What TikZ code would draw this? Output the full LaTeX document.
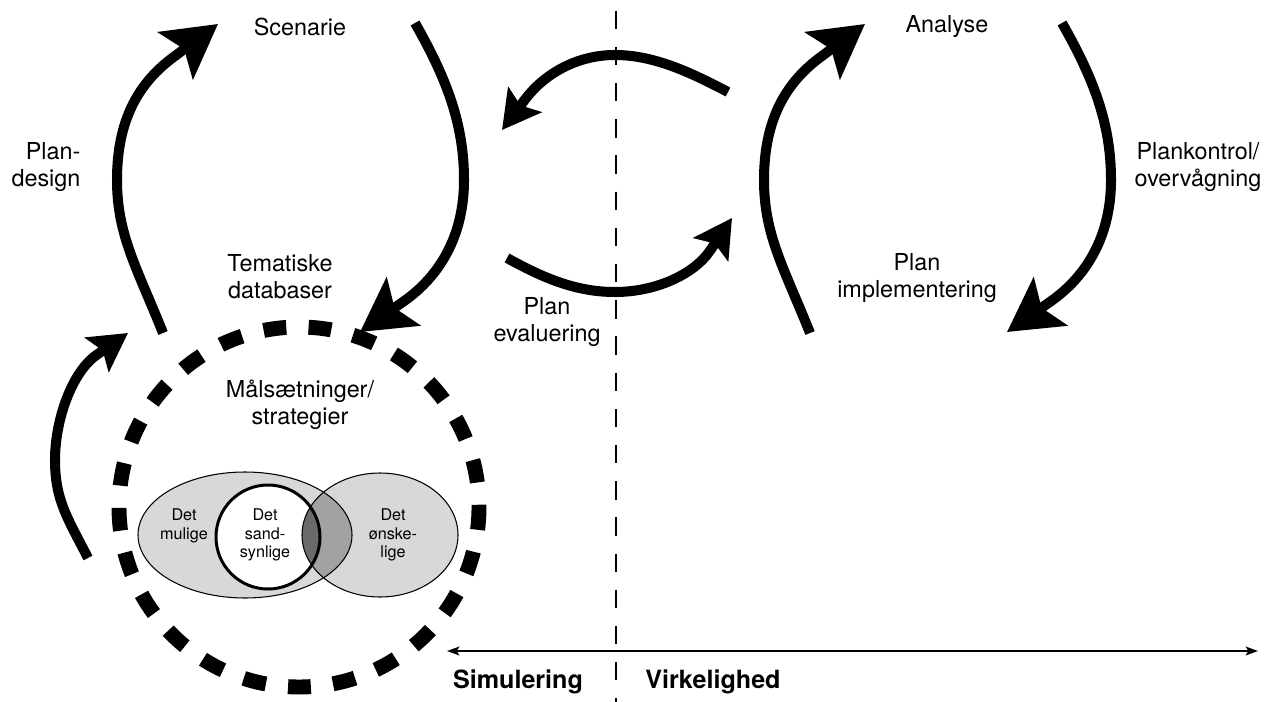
\documentclass[tikz,border=0pt]{standalone}
\usepackage{fontspec}
\setmainfont{TeX Gyre Heros}
\usetikzlibrary{arrows.meta, positioning}

\definecolor{venlight}{HTML}{D8D8D8}
\definecolor{venmid}{HTML}{A2A2A2}
\definecolor{vendark}{HTML}{6A6A6A}

\begin{document}
\begin{tikzpicture}[
			x=0.02cm, y=-0.02cm,
			lbl/.style={
				align=center,
				inner sep=0pt,
				font=\fontsize{13.3}{15.2}\selectfont
			},
			vlbl/.style={
				align=center,
				inner sep=0pt,
				font=\fontsize{9.2}{10.4}\selectfont
			},
			axislbl/.style={
				inner sep=0pt,
				font=\fontsize{14.3}{16}\selectfont\bfseries
			},
			bigarrow/.style={
				-{Stealth[length=30pt, width=33pt, inset=6pt]},
				line width=5.7pt
			},
			smallarrow/.style={
				-{Stealth[length=21.5pt, width=23.5pt, inset=4pt]},
				line width=5.7pt
			},
			divider/.style={
				line width=1.6pt,
				dash pattern=on 10.4pt off 10.2pt,
				dash phase=14.5pt
			},
			axis/.style={
				{Stealth[length=7pt, width=5pt, inset=1.5pt]}-{Stealth[length=7pt, width=5pt, inset=1.5pt]},
				line width=1.1pt
			}
			]
			
			\useasboundingbox (0,0) rectangle (1266,702);
			
			% Divider: Simulering | Virkelighed
			\coordinate (div-top) at (616,0);
			\coordinate (div-bot) at (616,702);
			\draw[divider] (div-top) -- (div-bot);
			
			% Axis
			\coordinate (ax-left) at (447,651);
			\coordinate (ax-right) at (1258,651);
			\draw[axis] (ax-left) -- (ax-right);
			\node[axislbl] (simul) at (518,682) {Simulering};
			\node[axislbl] (virk) at (713,682) {Virkelighed};
			
			% Goals: dashed ring
			\draw[line width=8.5pt, dash pattern=on 13pt off 12.7pt] (299,507) circle [radius=180];
			\node[lbl] (maal) at (300,405) {Målsætninger/\\strategier};
			
			% Venn diagram
			\fill[venlight] (245,535) ellipse [x radius=107, y radius=63];
			\fill[venlight] (380,535) ellipse [x radius=78, y radius=62];
			\begin{scope}
				\clip (245,535) ellipse [x radius=107, y radius=63];
				\fill[venmid] (380,535) ellipse [x radius=78, y radius=62];
			\end{scope}
			\fill[white] (268,537) circle [radius=52];
			\begin{scope}
				\clip (380,535) ellipse [x radius=78, y radius=62];
				\fill[vendark] (268,537) circle [radius=52];
			\end{scope}
			\draw[line width=0.6pt] (245,535) ellipse [x radius=107, y radius=63];
			\draw[line width=0.6pt] (380,535) ellipse [x radius=78, y radius=62];
			\draw[line width=1.7pt] (268,537) circle [radius=52];
			\node[vlbl] (mulig) at (184,526) {Det\\mulige};
			\node[vlbl] (sandsyn) at (265,535) {Det\\sand-\\synlige};
			\node[vlbl] (oensk) at (393,535) {Det\\ønske-\\lige};
			
			% Left cycle: Scenarie
			\node[lbl] (scen) at (300,27) {Scenarie};
			\node[lbl, align=right] (plandes) at (46,167) {Plan-\\design};
			\node[lbl] (tema) at (280,277) {Tematiske\\databaser};
			\coordinate (lc-start) at (163,333);
			\coordinate (lc-neck) at (175,56);
			\coordinate (lc-end) at (218,24);
			\coordinate (rc-start) at (415,23);
			\coordinate (rc-neck) at (403.5,301.5);
			\coordinate (rc-end) at (360,332);
			\draw[bigarrow] (lc-start) .. controls (137,268) and (117,235) .. (117,180)
				.. controls (117,120) and (138.5,82.3) .. (lc-neck) -- (lc-end);
			\draw[bigarrow] (rc-start) .. controls (447.5,80) and (464,125) .. (464,180)
				.. controls (464,235) and (440.4,275.7) .. (rc-neck) -- (rc-end);
			
			% Small arrow into the cycle
			\coordinate (sm-start) at (88,558);
			\coordinate (sm-neck) at (96.5,355);
			\coordinate (sm-end) at (128,333);
			\draw[smallarrow] (sm-start) .. controls (67.5,518) and (55,500) .. (55,460)
				.. controls (55,420) and (71.9,372.2) .. (sm-neck) -- (sm-end);
			
			% Middle: Plan evaluering
			\node[lbl] (planeval) at (547,322) {Plan\\evaluering};
			\coordinate (mt-start) at (728,92);
			\coordinate (mt-neck) at (525,99.5);
			\coordinate (mt-end) at (502,130);
			\coordinate (mb-start) at (507,258);
			\coordinate (mb-neck) at (710.5,250);
			\coordinate (mb-end) at (732,218);
			\draw[smallarrow] (mt-start) .. controls (692.5,73.5) and (655,55) .. (615,55)
				.. controls (575,55) and (543,75.5) .. (mt-neck) -- (mt-end);
			\draw[smallarrow] (mb-start) .. controls (542,277.3) and (575,292) .. (615,292)
				.. controls (655,292) and (693.8,274.9) .. (mb-neck) -- (mb-end);
			
			% Right cycle: Analyse
			\node[lbl] (analyse) at (947,27) {Analyse};
			\node[lbl] (plankon) at (1198,167) {Plankontrol/\\overvågning};
			\node[lbl] (planimp) at (917,278) {Plan\\implementering};
			\coordinate (la-start) at (810,333);
			\coordinate (la-neck) at (822,56);
			\coordinate (la-end) at (865,24);
			\coordinate (ra-start) at (1062,23);
			\coordinate (ra-neck) at (1050.5,301.5);
			\coordinate (ra-end) at (1007,332);
			\draw[bigarrow] (la-start) .. controls (784,268) and (764,235) .. (764,180)
				.. controls (764,120) and (785.5,82.3) .. (la-neck) -- (la-end);
			\draw[bigarrow] (ra-start) .. controls (1094.5,80) and (1111,125) .. (1111,180)
				.. controls (1111,235) and (1087.4,275.7) .. (ra-neck) -- (ra-end);
			
		\end{tikzpicture}
\end{document}
